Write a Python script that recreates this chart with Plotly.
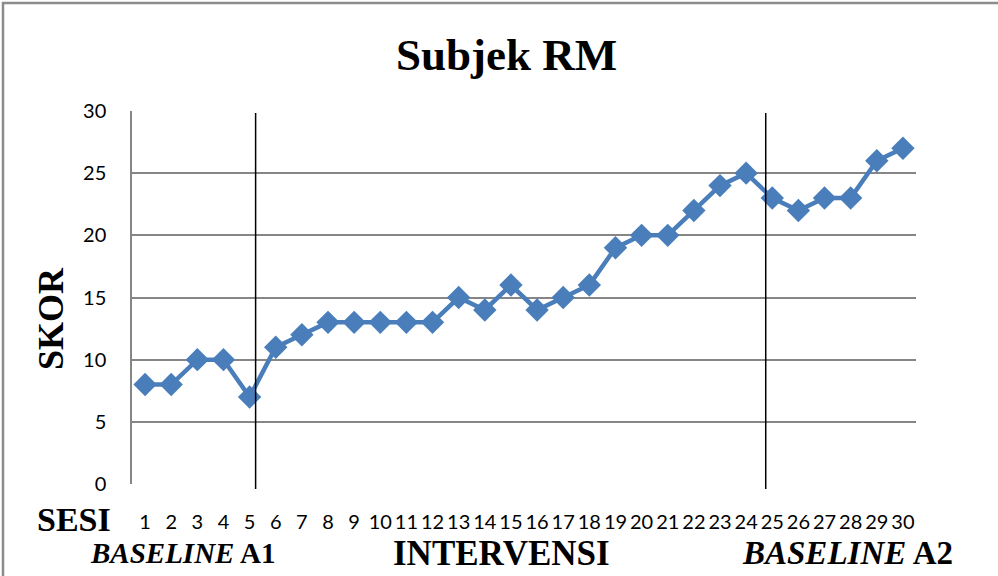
import plotly.graph_objects as go

sesi = list(range(1, 31))
tick_labels = [str(i) for i in sesi]
skor = [8, 8, 10, 10, 7, 11, 12, 13, 13, 13, 13, 13, 15, 14, 16, 14, 15, 16, 19, 20,
        20, 22, 24, 25, 23, 22, 23, 23, 26, 27]
phase_breaks = [5.23, 24.75]
y_ticks = [0, 5, 10, 15, 20, 25, 30]

L, R, T, B = 132, 916, 111, 484
W, H = 998, 576
pw, ph = R - L, B - T

def px(x):
    return (x - L) / pw

def py(y):
    return (B - y) / ph

fig = go.Figure()
fig.add_trace(go.Scatter(
    x=sesi, y=skor, mode="lines+markers",
    line=dict(color="#4A7EBB", width=4.5),
    marker=dict(symbol="diamond", size=18, color="#4A7EBB"),
    showlegend=False, cliponaxis=False,
))

shapes = []
for xb in phase_breaks:
    shapes.append(dict(type="line", xref="x", yref="paper", x0=xb, x1=xb,
                       y0=py(489), y1=py(113), line=dict(color="black", width=1.5)))
shapes.append(dict(type="rect", xref="paper", yref="paper",
                   x0=px(3), x1=px(1100), y0=py(700), y1=py(3),
                   line=dict(color="#8c8c8c", width=2.5), fillcolor="rgba(0,0,0,0)"))

tnr = "Liberation Serif"
tick_font = dict(family="Lato, sans-serif", size=20, color="black")

def ann(text, x, y, size, angle=0):
    return dict(text=text, xref="paper", yref="paper", x=px(x), y=py(y),
                xanchor="center", yanchor="middle", textangle=angle, showarrow=False,
                font=dict(family=tnr, size=size, color="black"))

fig.update_layout(
    width=W, height=H,
    margin=dict(l=L, r=W - R, t=T, b=H - B),
    paper_bgcolor="white", plot_bgcolor="white",
    shapes=shapes,
    xaxis=dict(range=[0.5, 30.5], tickvals=sesi, ticktext=tick_labels,
               showgrid=False, zeroline=False, showline=False, ticks="",
               tickfont=tick_font, ticklabelstandoff=24, fixedrange=True),
    yaxis=dict(range=[0, 30], tickvals=y_ticks, showgrid=True, gridcolor="#868686",
               gridwidth=1.5, zeroline=False, showline=True, linecolor="#868686",
               linewidth=1.5, ticks="", tickfont=tick_font, ticklabelstandoff=20,
               fixedrange=True),
    annotations=[
        ann("<b>Subjek RM</b>", 506, 55, 45),
        ann("<b>SKOR</b>", 51, 319, 36, -90),
        ann("<b>SESI</b>", 74, 519, 34),
        ann("<b><i>BASELINE</i> A1</b>", 183, 553, 29),
        ann("<b>INTERVENSI</b>", 501, 553, 35),
        ann("<b><i>BASELINE</i> A2</b>", 847, 553, 33),
    ],
)

fig.write_html("out.html", config={"displayModeBar": False},
               post_script="document.body.style.margin='0px';document.body.style.overflow='hidden';")
